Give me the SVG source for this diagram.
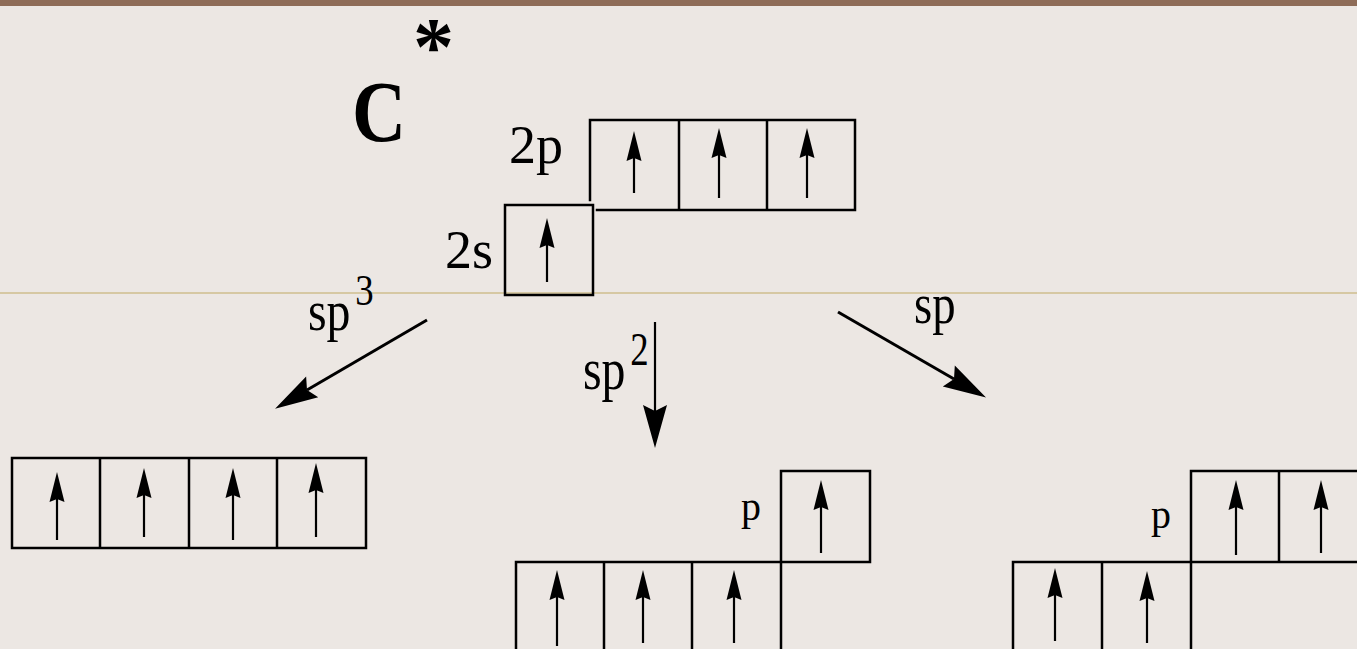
<svg xmlns="http://www.w3.org/2000/svg" width="1357" height="649" viewBox="0 0 1357 649">
<style>
.bx{fill:none;stroke:#000;stroke-width:2.5;stroke-linecap:square}
.e{stroke:#000;stroke-width:2.2;fill:none;marker-end:url(#sa)}
.c{stroke:#000;fill:none;marker-end:url(#ba)}
.t{font-family:"Liberation Serif","Times New Roman",serif;fill:#000}
</style>
<defs>
<marker id="sa" markerUnits="userSpaceOnUse" viewBox="-4 -9 32 18" markerWidth="32" markerHeight="18" refX="0" refY="0" orient="auto">
<path d="M27,0 L-3,-7.5 L0,0 L-3,7.5 Z" fill="#000"/>
</marker>
<marker id="ba" markerUnits="userSpaceOnUse" viewBox="-8 -14 46 28" markerWidth="46" markerHeight="28" refX="0" refY="0" orient="auto">
<path d="M37,0 L-6,-12 L0,0 L-6,12 Z" fill="#000"/>
</marker>
</defs>
<rect width="1357" height="649" fill="#ECE7E3"/>
<rect width="1357" height="6" fill="#8E6C58"/>
<line x1="0" y1="293" x2="1357" y2="293" stroke="#CFBE8E" stroke-width="1.6"/>

<g id="title">
<text class="t" font-weight="bold" font-size="86" transform="translate(352,141) scale(0.87,1)">C</text>
<text class="t" font-weight="bold" font-size="82" x="413" y="74">*</text>
</g>

<g id="ground-2p">
<text class="t" font-size="54" x="509" y="163">2p</text>
<path class="bx" d="M590,200 V120 H855 V210 H597 M679,120 V210 M767,120 V210"/>
<line class="e" x1="634" y1="193" x2="634" y2="158"/>
<line class="e" x1="719" y1="198" x2="719" y2="155"/>
<line class="e" x1="807" y1="198" x2="807" y2="155"/>
</g>

<g id="ground-2s">
<text class="t" font-size="54" x="445" y="268">2s</text>
<rect class="bx" x="505" y="205" width="88" height="90"/>
<line class="e" x1="547" y1="282" x2="547" y2="245"/>
</g>

<g id="sp3">
<path class="bx" d="M12,458 H366 V548 H12 Z M100,458 V548 M189,458 V548 M277,458 V548"/>
<line class="e" x1="57" y1="540" x2="57" y2="499"/>
<line class="e" x1="144" y1="537" x2="144" y2="495"/>
<line class="e" x1="233" y1="540" x2="233" y2="495"/>
<line class="e" x1="316" y1="537" x2="316" y2="490"/>
</g>

<g id="sp2">
<path class="bx" d="M516,649 V562 H870 V471 H781 V649 M604,562 V649 M692,562 V649"/>
<line class="e" x1="821" y1="553" x2="821" y2="507"/>
<line class="e" x1="557" y1="646" x2="557" y2="597"/>
<line class="e" x1="643" y1="643" x2="643" y2="597"/>
<line class="e" x1="734" y1="643" x2="734" y2="597"/>
<text class="t" font-size="40" x="741" y="520">p</text>
</g>

<g id="sp">
<path class="bx" d="M1013,649 V562 H1360 M1191,649 V471 H1360 M1279,471 V562 M1102,562 V649"/>
<line class="e" x1="1236" y1="555" x2="1236" y2="507"/>
<line class="e" x1="1321" y1="553" x2="1321" y2="507"/>
<line class="e" x1="1055" y1="641" x2="1055" y2="595"/>
<line class="e" x1="1147" y1="643" x2="1147" y2="598"/>
<text class="t" font-size="40" x="1151" y="528">p</text>
</g>

<g id="connectors">
<line class="c" stroke-width="3" x1="427" y1="320" x2="307" y2="390"/>
<line class="c" stroke-width="2.2" x1="655" y1="322" x2="655" y2="411"/>
<line class="c" stroke-width="3" x1="838" y1="312" x2="954" y2="379"/>
</g>

<g id="labels">
<text class="t" font-size="52" transform="translate(308,330) scale(0.92,1.1)">sp<tspan font-size="40" dx="5" dy="-23">3</tspan></text>
<text class="t" font-size="52" transform="translate(583,389) scale(0.92,1.15)">sp<tspan font-size="40" dx="5" dy="-21">2</tspan></text>
<text class="t" font-size="52" transform="translate(914,323) scale(0.9,1.1)">sp</text>
</g>
</svg>
